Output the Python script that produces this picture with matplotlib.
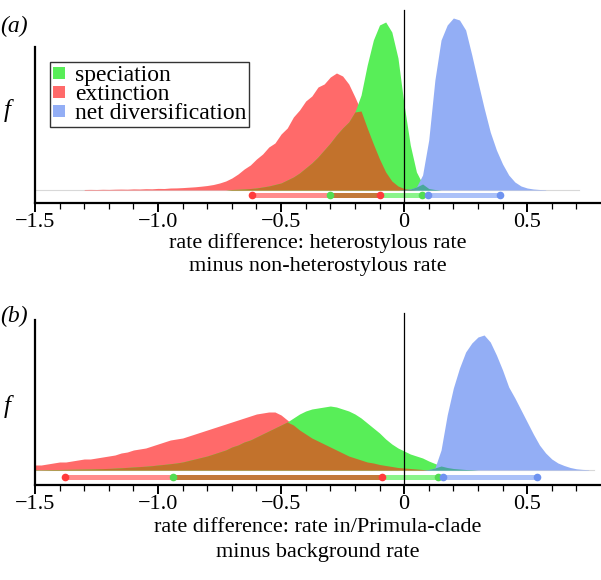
import numpy as np
import pandas as pd
import matplotlib
matplotlib.use("Agg")
import matplotlib.pyplot as plt
from matplotlib.lines import Line2D

plt.rcParams['font.family'] = ['Liberation Serif', 'DejaVu Serif']

# histogram heights, bins of 0.025 (relative units)
step = 0.025

a_red_start = -1.300
a_red = [0.5, 0.6, 0.5, 0.7, 0.6, 0.8, 0.9, 0.8,
         1.1, 1.0, 1.3, 1.2, 1.6, 1.5, 2.0, 2.1,
         2.4, 2.8, 3.2, 3.8, 4.5, 5.5, 7, 9,
         12, 16, 21, 25, 31, 36, 43, 47,
         56, 62, 73, 80, 89, 94, 103, 106,
         113, 117, 114, 106, 93, 79, 62, 46,
         31, 18, 9, 4, 1.5, 0.5]
a_green_start = -0.700
a_green = [0.5, 0.7, 1.0, 1.5, 2.0, 3.0, 4.0, 5.5,
           7, 10, 13, 17, 22, 27, 33, 40,
           47, 55, 62, 68, 78, 95, 125, 150,
           165, 168, 158, 132, 85, 45, 18, 6,
           1.5, 0.5]
a_blue_start = 0.000
a_blue = [0.5, 1, 3, 15, 50, 110, 150, 165,
          172, 170, 160, 135, 108, 82, 58, 40,
          26, 15, 8, 4, 2, 1, 0.5, 0.3]

b_red_start = -1.500
b_red = [5, 5, 6, 7, 8, 8, 9, 10,
         11, 11, 12, 13, 14, 15, 17, 18,
         20, 21, 22, 24, 26, 28, 30, 31,
         32, 34, 36, 38, 40, 42, 44, 46,
         48, 50, 52, 54, 56, 57, 58, 58,
         55, 50, 45, 40, 36, 32, 29, 26,
         23, 20, 17, 14, 12, 10, 8, 7,
         5.5, 4.5, 3.5, 2.5, 2, 1.5, 1, 0.5]
b_green_start = -1.500
b_green = [0.3, 0.3, 0.4, 0.5, 0.5, 0.6, 0.7, 0.8,
           0.9, 1.0, 1.2, 1.4, 1.6, 1.9, 2.2, 2.6,
           3.0, 3.4, 3.8, 4.3, 5.0, 5.6, 6.3, 7.0,
           8, 9.5, 11, 12.5, 14, 16, 18, 20,
           23, 25, 28, 30, 33, 36, 39, 42,
           45, 48, 52, 56, 59, 61, 62, 63,
           64, 63, 61, 59, 56, 52, 47, 42,
           37, 31, 26, 22, 19, 16, 14, 12,
           9, 6.5, 4, 2.5, 1.5, 1, 0.5, 0.3]
b_blue_start = 0.100
b_blue = [0.5, 2, 20, 55, 82, 102, 118, 127,
          133, 135, 128, 115, 100, 83, 72, 60,
          48, 36, 25, 17, 11, 7, 4.5, 2.5,
          1.2, 0.6, 0.3]

# credible intervals (low, high)
a_int = {'red': (-0.62, -0.10), 'green': (-0.30, 0.072), 'blue': (0.096, 0.388)}
b_int = {'red': (-1.38, -0.09), 'green': (-0.94, 0.138), 'blue': (0.157, 0.538)}

legend_labels = ['speciation', 'extinction', 'net diversification']
tick_vals = [-1.5, -1.0, -0.5, 0, 0.5]
tick_text = ['\u22121.5', '\u22121.0', '\u22120.5', '0', '0.5']

col = {'red': '#ff6a6a', 'green': '#58ee58', 'blue': '#93aef5',
       'brown': '#c2722c', 'teal': '#49a89a'}
col_int = {'red': '#ff8c8c', 'green': '#8af48a', 'blue': '#abc1f8', 'brown': '#c27a3a'}
col_dot = {'red': '#ff3b3b', 'green': '#52dd52', 'blue': '#6f93f0'}


def series(start, vals):
    idx = np.round(start + step * np.arange(len(vals)), 4)
    return pd.Series(vals, index=idx, dtype=float)


W, H = 601, 580
fig = plt.figure(figsize=(W / 100, H / 100), dpi=100)


def box(l, t, r, b):
    return [l / W, 1 - b / H, (r - l) / W, (b - t) / H]


def panel(rect, ylim, spine_top, vtop, base_end, red, green, blue, ints, ybar):
    ax = fig.add_axes(rect)
    df = pd.concat({'red': red, 'green': green, 'blue': blue}, axis=1).fillna(0).sort_index()
    x = df.index.values
    ax.plot([-1.5, base_end], [0, 0], color='#d8d8d8', lw=0.8, zorder=1)
    for k in ['red', 'green', 'blue']:
        ax.fill_between(x, 0, df[k], color=col[k], linewidth=0, zorder=2)
    ax.fill_between(x, 0, np.minimum(df['red'], df['green']), color=col['brown'], linewidth=0, zorder=3)
    ax.fill_between(x, 0, np.minimum(df['green'], df['blue']), color=col['teal'], linewidth=0, zorder=3)

    # interval bars
    for k in ['red', 'green']:
        ax.plot(ints[k], [ybar, ybar], color=col_int[k], lw=3.6, solid_capstyle='butt', zorder=4)
    lo = max(ints['red'][0], ints['green'][0])
    hi = min(ints['red'][1], ints['green'][1])
    if hi > lo:
        ax.plot([lo, hi], [ybar, ybar], color=col_int['brown'], lw=3.6, solid_capstyle='butt', zorder=4)
    ax.plot(ints['blue'], [ybar, ybar], color=col_int['blue'], lw=3.6, solid_capstyle='butt', zorder=4)
    for k in ['red', 'green', 'blue']:
        ax.plot(ints[k], [ybar, ybar], 'o', color=col_dot[k], ms=5.5, mew=0, zorder=5)

    ax.plot([0, 0], [ylim[0], vtop], color='black', lw=0.9, zorder=6)

    ax.set_xlim(-1.5, 0.8)
    ax.set_ylim(*ylim)
    for s in ['top', 'right']:
        ax.spines[s].set_visible(False)
    ax.spines['left'].set_bounds(ylim[0], spine_top)
    ax.spines['left'].set_linewidth(1.6)
    ax.spines['bottom'].set_linewidth(1.6)
    ax.spines['left'].set_zorder(7)
    ax.set_yticks([])
    ax.set_xticks(tick_vals)
    ax.set_xticklabels(tick_text, fontsize=16)
    ax.set_xticks(np.round(np.arange(-1.5, 0.71, 0.1), 2), minor=True)
    ax.tick_params(axis='x', which='major', direction='out', length=6.5, width=1.4, pad=0.5)
    ax.tick_params(axis='x', which='minor', direction='out', length=4, width=0.9)
    ax.patch.set_alpha(0)
    return ax


ax_a = panel(box(35, 0, 601, 203), (-13, 190), 143, 180, 0.71,
             series(a_red_start, a_red), series(a_green_start, a_green),
             series(a_blue_start, a_blue), a_int, -5)
ax_b = panel(box(35, 300, 601, 485), (-15, 170), 150, 157, 0.77,
             series(b_red_start, b_red), series(b_green_start, b_green),
             series(b_blue_start, b_blue), b_int, -7)


def ftext(x, y, s, **kw):
    fig.text(x / W, 1 - y / H, s, ha='center', va='center', **kw)


ftext(14, 26, '(a)', fontsize=17, style='italic')
ftext(14, 316, '(b)', fontsize=17, style='italic')
ftext(7, 110, 'f', fontsize=18, style='italic')
ftext(7, 406, 'f', fontsize=18, style='italic')
ftext(318, 243, 'rate difference: heterostylous rate', fontsize=16)
ftext(318, 267, 'minus non-heterostylous rate', fontsize=16)
ftext(318, 528, 'rate difference: rate in/Primula-clade', fontsize=16)
ftext(318, 552, 'minus background rate', fontsize=16)

handles = [Line2D([], [], marker='s', ls='', color=col[k], ms=8, mew=0)
           for k in ['green', 'red', 'blue']]
leg = fig.legend(handles, legend_labels, loc='upper left',
                 bbox_to_anchor=(50 / W, 1 - 62 / H), fontsize=17,
                 frameon=True, fancybox=False, borderpad=0.1, labelspacing=-0.1,
                 handlelength=0.6, handletextpad=0.35, borderaxespad=0)
leg.get_frame().set_edgecolor('black')
leg.get_frame().set_linewidth(1.0)

fig.savefig('out.png', dpi=100)
